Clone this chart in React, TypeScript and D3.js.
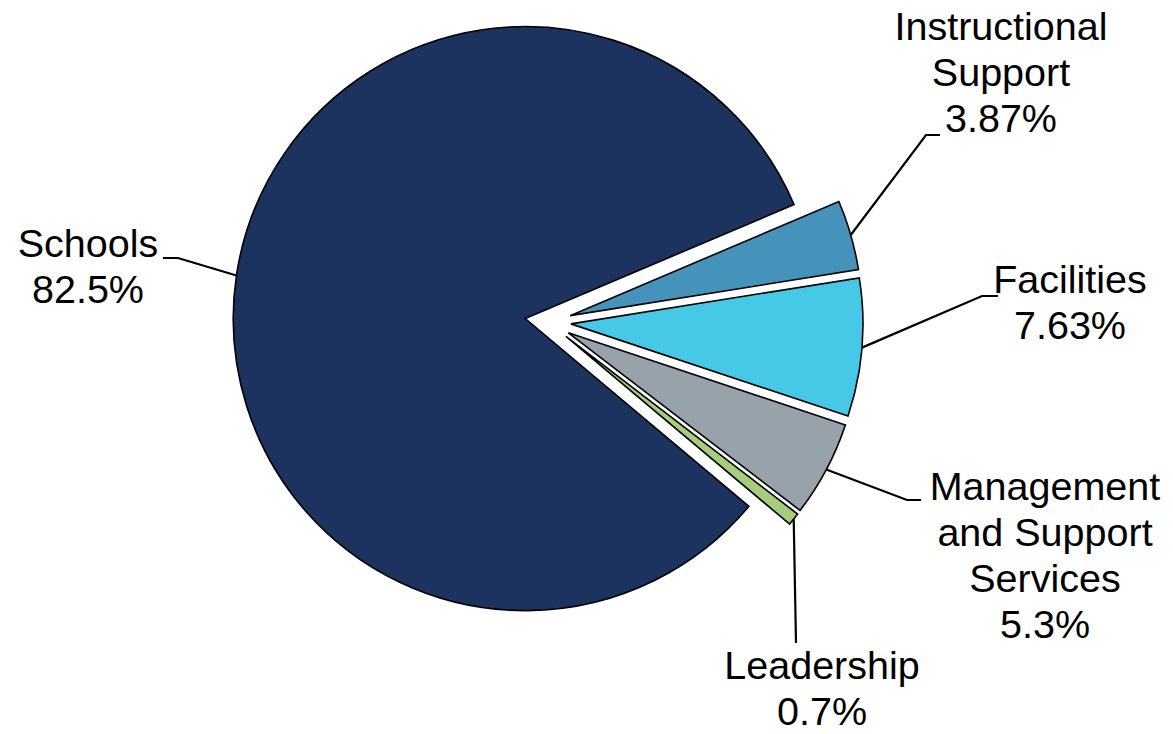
import * as d3 from "d3";

// slice order follows the pie clockwise, starting at the upper right
const categories = ["Instructional Support", "Facilities", "Management and Support Services", "Leadership", "Schools"];
const shares = [3.87, 7.63, 5.3, 0.7, 82.5];
const shareLabels = ["3.87%", "7.63%", "5.3%", "0.7%", "82.5%"];
const labelLines = [
  ["Instructional", "Support"],
  ["Facilities"],
  ["Management", "and Support", "Services"],
  ["Leadership"],
  ["Schools"],
];
const colors = ["#4592bb", "#45c9e6", "#98a2ab", "#a5cd7b", "#1c3360"];

// label layout: text centre x, first baseline y, elbow of the leader line
const labelLayout = [
  { x: 1001, y: 40, elbow: [[940, 135], [926, 135]] },
  { x: 1070, y: 293, elbow: [[998, 296], [982, 296]] },
  { x: 1045, y: 500, elbow: [[921, 500], [907, 500]] },
  { x: 822, y: 679, elbow: [[796, 643]] },
  { x: 88, y: 257, elbow: [[163, 258], [178, 258]] },
];

const W = 1173;
const H = 734;
const cx = 548;
const cy = 322;
const R = 292;
const explode = 23;
const startDeg = 67;
const lineH = 46;

export default function App() {
  const pie = d3.pie<number>()
    .sort(null)
    .startAngle((startDeg * Math.PI) / 180)
    .endAngle((startDeg * Math.PI) / 180 + 2 * Math.PI);
  const arcs = pie(shares);
  const arc = d3.arc<d3.PieArcDatum<number>>().innerRadius(0).outerRadius(R);

  return (
    <svg width={W} height={H} style={{ position: "absolute", left: 0, top: 0 }}
      fontFamily="'Liberation Sans', Arial, sans-serif">
      <rect width={W} height={H} fill="#fff" />
      {arcs.map((a, i) => {
        const mid = (a.startAngle + a.endAngle) / 2;
        const ox = cx + explode * Math.sin(mid);
        const oy = cy - explode * Math.cos(mid);
        const ax = ox + R * Math.sin(mid);
        const ay = oy - R * Math.cos(mid);
        const lay = labelLayout[i];
        const pts = [...lay.elbow.map(p => p.join(",")), `${ax},${ay}`].join(" ");
        const lines = [...labelLines[i], shareLabels[i]];
        return (
          <g key={categories[i]}>
            <path d={arc(a) || ""} transform={`translate(${ox},${oy})`}
              fill={colors[i]} stroke="#000" strokeWidth={1.6} strokeLinejoin="miter" />
            <polyline points={pts} fill="none" stroke="#000" strokeWidth={2.2} />
            <text x={lay.x} y={lay.y} textAnchor="middle" fontSize={39.5} fill="#000">
              {lines.map((t, j) => (
                <tspan key={j} x={lay.x} y={lay.y + j * lineH}>{t}</tspan>
              ))}
            </text>
          </g>
        );
      })}
    </svg>
  );
}
